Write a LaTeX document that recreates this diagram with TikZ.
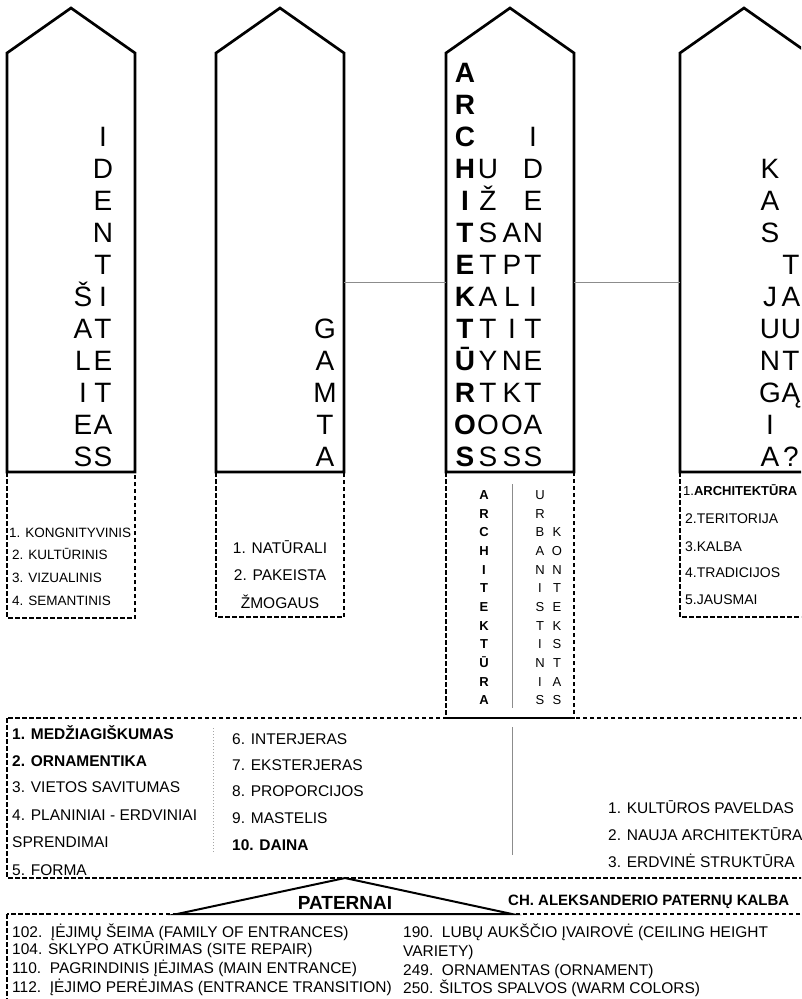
\documentclass[tikz,border=0pt]{standalone}
\usepackage{fontspec}
\setmainfont{Liberation Sans}
\begin{document}
\begin{tikzpicture}[x=1pt,y=-1pt]
\def\cw{128}    % house width
\def\rh{32.08}  % letter row pitch in the houses
\def\ry{72}     % centre of letter row 0
\def\sh{18.64}  % letter row pitch in the narrow box
\def\sy{495}    % centre of letter row 0 in the narrow box
\tikzset{
  wall/.style={line width=2.7pt,line join=miter},
  dashbox/.style={line width=2pt,dash pattern=on 4.5pt off 2.5pt},
  link/.style={line width=1pt,black!45},
  letter/.style={inner sep=0pt,text height=20pt,text depth=0pt,font=\fontsize{28}{28}\selectfont},
  boldletter/.style={letter,font=\fontsize{28}{28}\selectfont\bfseries},
  small/.style={inner sep=0pt,text height=9.3pt,text depth=0pt,font=\fontsize{13}{13}\selectfont},
  boldsmall/.style={small,font=\fontsize{13}{13}\selectfont\bfseries},
  item/.style={anchor=west,inner sep=0pt,text height=11.1pt,text depth=0pt,font=\fontsize{15.5}{15.5}\selectfont},
  boxitem/.style={item,text height=9.7pt,font=\fontsize{13.5}{13.5}\selectfont},
}
\useasboundingbox (0,0) rectangle (801,999);
\clip (0,0) rectangle (801,999);
% a house with left wall at #1, named #2
\newcommand{\house}[2]{%
  \draw[wall,fill=white] (#1,472) -- (#1,53) -- ({#1+0.5*\cw},8) -- ({#1+\cw},53) -- ({#1+\cw},472) -- cycle;
  \coordinate (#2-w) at (#1,282);
  \coordinate (#2-e) at ({#1+\cw},282);
}
% a column of big letters at x=#1 from row #2, letters #3, style #4, names #5
\newcommand{\lettercol}[5]{%
  \foreach \ch [count=\k from #2] in {#3}{\node[#4] (#5-\k) at (#1,{\ry+\k*\rh}) {\ch};}%
}
% a column of small letters at x=#1 from row #2, letters #3, style #4, names #5
\newcommand{\smallcol}[5]{%
  \foreach \ch [count=\k from #2] in {#3}{\node[#4] (#5-\k) at (#1,{\sy+\k*\sh}) {\ch};}%
}
% dashed boxes under the houses
\draw[dashbox] (7,472) rectangle (135,618);
\draw[dashbox] (216,472) rectangle (344,617);
\draw[dashbox] (446,472) rectangle (574,718);
\draw[dashbox] (680,472) rectangle (830,617);
\draw[dashbox] (7,718) rectangle (830,878);
\draw[dashbox] (7,914) rectangle (830,1030);
% the four houses
\house{7}{ident}
\house{216}{gamta}
\house{446}{arch}
\house{680}{kas}
\draw[link] (gamta-e) -- (arch-w);
\draw[link] (arch-e) -- (kas-w);
% house 1
\lettercol{103}{2}{I,D,E,N,T,I,T,E,T,A,S}{letter}{ida}
\lettercol{83}{7}{Š,A,L,I,E,S}{letter}{sal}
% house 2
\lettercol{325}{8}{G,A,M,T,A}{letter}{gam}
% house 3
\lettercol{465}{0}{A,R,C,H,I,T,E,K,T,Ū,R,O,S}{boldletter}{arc}
\lettercol{488}{3}{U,Ž,S,T,A,T,Y,T,O,S}{letter}{uzs}
\lettercol{512}{5}{A,P,L,I,N,K,O,S}{letter}{apl}
\lettercol{533}{2}{I,D,E,N,T,I,T,E,T,A,S}{letter}{idb}
% house 4
\lettercol{770}{3}{K,A,S}{letter}{kas}
\lettercol{770}{7}{J,U,N,G,I,A}{letter}{jun}
\lettercol{791}{6}{T,A,U,T,Ą}{letter}{tau}
\node[letter] (qm) at (791,{\ry+12*\rh}) {?};
% box 1
\node[boxitem] (k1) at (9,533) {1. KONGNITYVINIS};
\node[boxitem] (k2) at (12,555) {2. KULTŪRINIS};
\node[boxitem] (k3) at (12,578) {3. VIZUALINIS};
\node[boxitem] (k4) at (12,601) {4. SEMANTINIS};
% box 2
\node[item,anchor=center] (n1) at (280,548) {1. NATŪRALI};
\node[item,anchor=center] (n2) at (280,575) {2. PAKEISTA};
\node[item,anchor=center] (n3) at (280,603) {ŽMOGAUS};
% box 3
\draw[link] (512,484) -- (512,708);
\smallcol{484}{0}{A,R,C,H,I,T,E,K,T,Ū,R,A}{boldsmall}{sa}
\smallcol{540}{0}{U,R,B,A,N,I,S,T,I,N,I,S}{small}{su}
\smallcol{557}{2}{K,O,N,T,E,K,S,T,A,S}{small}{sk}
% box 4
\node[boxitem,font=\fontsize{13}{13}\selectfont] (t1) at (683,491) {1.\textbf{ARCHITEKTŪRA}};
\node[boxitem,font=\fontsize{14}{14}\selectfont] (t2) at (685,519) {2.TERITORIJA};
\node[boxitem,font=\fontsize{14}{14}\selectfont] (t3) at (685,547) {3.KALBA};
\node[boxitem,font=\fontsize{14}{14}\selectfont] (t4) at (685,573) {4.TRADICIJOS};
\node[boxitem,font=\fontsize{14}{14}\selectfont] (t5) at (685,600) {5.JAUSMAI};
% big box
\draw[black!35,line width=1pt,dotted] (213,728) -- (213,853);
\draw[link] (512,727) -- (512,855);
\node[item,font=\fontsize{15.5}{15.5}\selectfont\bfseries] (m1) at (12,734) {1. MEDŽIAGIŠKUMAS};
\node[item,font=\fontsize{15.5}{15.5}\selectfont\bfseries] (m2) at (12,761) {2. ORNAMENTIKA};
\node[item] (m3) at (12,787) {3. VIETOS SAVITUMAS};
\node[item] (m4) at (12,815) {4. PLANINIAI - ERDVINIAI};
\node[item] (m4b) at (12,842) {SPRENDIMAI};
\node[item] (m5) at (12,870) {5. FORMA};
\node[item] (m6) at (232,739) {6. INTERJERAS};
\node[item] (m7) at (232,765) {7. EKSTERJERAS};
\node[item] (m8) at (232,791) {8. PROPORCIJOS};
\node[item] (m9) at (232,818) {9. MASTELIS};
\node[item,font=\fontsize{15.5}{15.5}\selectfont\bfseries] (m10) at (232,845) {10. DAINA};
\node[item] (p1) at (608,808) {1. KULTŪROS PAVELDAS};
\node[item] (p2) at (608,835) {2. NAUJA ARCHITEKTŪRA};
\node[item] (p3) at (608,862) {3. ERDVINĖ STRUKTŪRA};
% the roof over the patterns
\draw[line width=2pt,line join=miter,fill=white] (177,914) -- (345,878) -- (512,914) -- cycle;
\node[anchor=base,inner sep=0pt,font=\fontsize{19}{19}\selectfont\bfseries] (paternai) at (345,909) {PATERNAI};
\node[anchor=base west,inner sep=0pt,font=\fontsize{15}{15}\selectfont\bfseries] (kalba) at (508,905) {CH. ALEKSANDERIO PATERNŲ KALBA};
% bottom box
\node[item] (b1) at (12,932) {102.\ \ ĮĖJIMŲ ŠEIMA (FAMILY OF ENTRANCES)};
\node[item] (b2) at (12,949) {104. SKLYPO ATKŪRIMAS (SITE REPAIR)};
\node[item] (b3) at (12,968) {110.\ \ PAGRINDINIS ĮĖJIMAS (MAIN ENTRANCE)};
\node[item] (b4) at (12,987) {112.\ \ ĮĖJIMO PERĖJIMAS (ENTRANCE TRANSITION)};
\node[item] (c1) at (403,932) {190.\ \ LUBŲ AUKŠČIO ĮVAIROVĖ (CEILING HEIGHT};
\node[item] (c2) at (403,951) {VARIETY)};
\node[item] (c3) at (403,970) {249.\ \ ORNAMENTAS (ORNAMENT)};
\node[item] (c4) at (403,988) {250. ŠILTOS SPALVOS (WARM COLORS)};
\end{tikzpicture}
\end{document}
